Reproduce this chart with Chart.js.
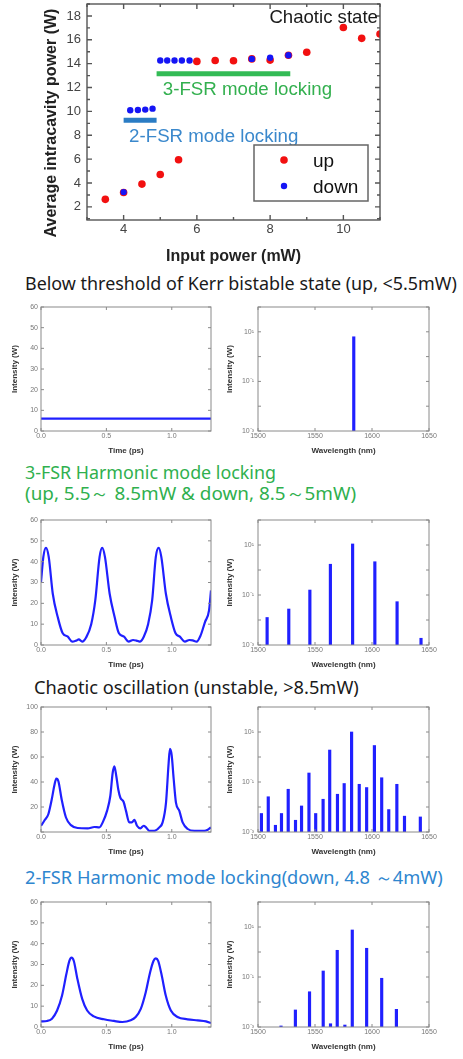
<!DOCTYPE html>
<html>
<head>
<meta charset="utf-8">
<script src="https://cdn.jsdelivr.net/npm/chart.js@4.4.1/dist/chart.umd.min.js"></script>
<style>
body { margin: 0; background: #fff; }
#page { position: relative; width: 463px; height: 1059px; overflow: hidden; font-family: "Noto Sans", sans-serif; }
canvas { position: absolute; }
.hd { position: absolute; white-space: nowrap; line-height: 22px; height: 22px; }
.hd span { display: inline-block; }
</style>
</head>
<body>
<div id="page">
  <canvas id="main" width="463" height="266" style="left:0;top:0"></canvas>

  <div class="hd" data-w="432" style="left:25px;top:272px;color:#1a1a1a"><span>Below threshold of Kerr bistable state (up, &lt;5.5mW)</span></div>
  <canvas id="t1" width="222" height="157" style="left:0;top:299px"></canvas>
  <canvas id="s1" width="248" height="157" style="left:215px;top:299px"></canvas>

  <div class="hd" data-w="251" style="left:25px;top:461px;color:#2fb04e"><span>3-FSR Harmonic mode locking</span></div>
  <div class="hd" data-w="331" style="left:25px;top:482px;color:#2fb04e"><span>(up, 5.5～ 8.5mW &amp; down, 8.5～5mW)</span></div>
  <canvas id="t2" width="222" height="158" style="left:0;top:512px"></canvas>
  <canvas id="s2" width="248" height="158" style="left:215px;top:512px"></canvas>

  <div class="hd" data-w="325" style="left:34px;top:676px;color:#1a1a1a"><span>Chaotic oscillation (unstable, &gt;8.5mW)</span></div>
  <canvas id="t3" width="222" height="158" style="left:0;top:699px"></canvas>
  <canvas id="s3" width="248" height="158" style="left:215px;top:699px"></canvas>

  <div class="hd" data-w="418" style="left:25px;top:866px;color:#2e86cf"><span>2-FSR Harmonic mode locking(down, 4.8 ～4mW)</span></div>
  <canvas id="t4" width="222" height="158" style="left:0;top:894px"></canvas>
  <canvas id="s4" width="248" height="158" style="left:215px;top:894px"></canvas>
</div>
<script>
// ---- top chart: average intracavity power vs input power
const upX = [3.5, 4, 4.5, 5, 5.5, 6, 6.5, 7, 7.5, 8, 8.5, 9, 10, 10.5, 11];
const upY = [2.63, 3.2, 3.91, 4.71, 5.95, 14.19, 14.27, 14.24, 14.4, 14.3, 14.7, 14.96, 17.03, 16.12, 16.48];
const downX = [4, 4.18, 4.39, 4.59, 4.79, 5, 5.19, 5.39, 5.59, 5.8, 7.5, 8, 8.5];
const downY = [3.24, 10.1, 10.12, 10.15, 10.23, 14.27, 14.27, 14.27, 14.27, 14.27, 14.4, 14.5, 14.7];
const band3X = [4.9, 8.55];
const band3Y = [13.16, 13.16];
const band2X = [4.0, 4.9];
const band2Y = [9.26, 9.26];
const mainXTicks = [4, 6, 8, 10];
const mainYTicks = [2, 4, 6, 8, 10, 12, 14, 16, 18];

// ---- time traces (ps, W)
const t1 = [0, 1.3];
const i1 = [6, 6];
const t2 = [0, 0.018, 0.038, 0.059, 0.09, 0.128, 0.166, 0.205, 0.238, 0.269, 0.289, 0.315, 0.346, 0.384, 0.415, 0.448, 0.468, 0.489, 0.525, 0.563, 0.596, 0.635, 0.67, 0.704, 0.73, 0.755, 0.786, 0.819, 0.85, 0.878, 0.9, 0.92, 0.955, 0.993, 1.029, 1.062, 1.1, 1.134, 1.16, 1.19, 1.22, 1.254, 1.285, 1.3];
const i2 = [30.2, 42.3, 46.6, 42.3, 24.6, 13.4, 5.6, 4, 1.6, 2.1, 2.7, 1.6, 3.7, 10, 21.4, 42.3, 46.6, 42.3, 24.6, 13.4, 5.6, 4, 1.6, 2.4, 2.1, 1.6, 4, 10, 21.4, 42.3, 46.6, 42.3, 24.6, 13.4, 5.6, 4, 1.6, 2.4, 2.2, 1.6, 4.5, 11, 16.6, 26.2];
const t3 = [0, 0.025, 0.056, 0.082, 0.102, 0.117, 0.133, 0.158, 0.191, 0.229, 0.28, 0.357, 0.408, 0.446, 0.472, 0.505, 0.53, 0.548, 0.561, 0.576, 0.591, 0.607, 0.632, 0.65, 0.675, 0.695, 0.714, 0.734, 0.76, 0.785, 0.803, 0.828, 0.867, 0.905, 0.93, 0.956, 0.976, 0.986, 0.999, 1.015, 1.032, 1.058, 1.083, 1.122, 1.173, 1.249, 1.275, 1.3];
const i3 = [5, 9, 14.2, 26, 37.2, 42.7, 40.6, 26, 11.6, 5.5, 3.2, 2.9, 4, 3.7, 7.7, 16.9, 28.8, 47.2, 52.5, 44.6, 34, 27.4, 24, 16.9, 7.7, 7.7, 9.8, 5, 2.9, 5, 3.7, 1, 1, 3.7, 7.7, 23.5, 55.1, 66.5, 61.7, 42, 23.5, 16.9, 7.7, 2.4, 1, 1, 1.8, 3.7];
const t4 = [0, 0.046, 0.084, 0.123, 0.161, 0.194, 0.217, 0.233, 0.251, 0.276, 0.315, 0.353, 0.404, 0.481, 0.558, 0.622, 0.686, 0.724, 0.763, 0.801, 0.834, 0.86, 0.878, 0.896, 0.921, 0.954, 0.993, 1.044, 1.121, 1.198, 1.262, 1.3];
const i4 = [2.7, 2.9, 4, 7.9, 15.1, 25.4, 31.7, 33.3, 31.7, 23.8, 13.5, 7.9, 5.1, 3.7, 2.9, 2.4, 3.2, 4.8, 8.7, 16.7, 26.2, 31.7, 32.9, 31.7, 25.4, 15.1, 7.9, 4.8, 3.7, 3.2, 2.7, 1.9];
const timeTicks = [0, 0.5, 1.0];

// ---- spectra (nm, W, log scale)
const w1 = [1584];
const s1 = [6.3];
const w2 = [1508, 1527, 1545.5, 1563.5, 1583, 1602.5, 1622, 1643];
const s2 = [0.0126, 0.0275, 0.158, 1.7, 11, 2.14, 0.054, 0.00186];
const w3 = [1503, 1509, 1515.3, 1520.6, 1526.5, 1532.9, 1538.2, 1544.7, 1550.6, 1557.1, 1562.9, 1569.7, 1575.6, 1582.1, 1588.8, 1595.3, 1602.1, 1608.5, 1614.7, 1621.8, 1628.5, 1642.4];
const s3 = [0.0055, 0.0257, 0.00186, 0.0055, 0.0513, 0.00295, 0.011, 0.229, 0.0055, 0.0204, 1.9, 0.0324, 0.087, 10, 0.081, 0.06, 2.88, 0.148, 0.0079, 0.081, 0.0043, 0.004];
const w4 = [1520.2, 1532.8, 1545.2, 1557.2, 1563.6, 1569.5, 1576.2, 1582.7, 1595.3, 1608.5, 1621.4];
const s4 = [0.0011, 0.0048, 0.0257, 0.174, 0.00135, 1.17, 0.0012, 7.6, 1.41, 0.089, 0.0051];
const waveTicks = [1500, 1550, 1600, 1650];
const decadeTicks = [1e-3, 1e-2, 1e-1, 1e0, 1e1, 1e2];
const decadeLabels = { '-3': '10⁻³', '-1': '10⁻¹', '1': '10¹' };

const F = '"Liberation Sans", Arial, sans-serif';
const traceColor = '#2020ff';

// size fixing so the plot areas land where the figure has them
const yFit = w => s => { s.width = w; s.paddingTop = 0; s.paddingBottom = 0; };
const xFit = h => s => { s.height = h; s.paddingLeft = 0; s.paddingRight = 0; };
const setTicks = arr => s => { s.ticks = arr.map(v => ({ value: v })); };

function minorOf(vals, scale) {
  if (vals.length < 2) return [];
  const step = vals[1] - vals[0];
  const out = [];
  for (let v = vals[0] - step / 2; v <= scale.max; v += step) {
    if (v >= scale.min) out.push(v);
  }
  return out;
}

// frame around the plot plus inward tick marks on all sides
const frameTicks = {
  id: 'frameTicks',
  afterDatasetsDraw(chart, args, o) {
    const { ctx, chartArea: a, scales } = chart;
    const xs = scales.x, ys = scales.y;
    const xv = xs.ticks.map(t => t.value), yv = ys.ticks.map(t => t.value);
    ctx.save();
    ctx.strokeStyle = o.color;
    ctx.lineWidth = o.width;
    ctx.beginPath();
    const xMark = (v, L) => { const p = xs.getPixelForValue(v); ctx.moveTo(p, a.bottom); ctx.lineTo(p, a.bottom - L); ctx.moveTo(p, a.top); ctx.lineTo(p, a.top + L); };
    const yMark = (v, L) => { const p = ys.getPixelForValue(v); ctx.moveTo(a.left, p); ctx.lineTo(a.left + L, p); ctx.moveTo(a.right, p); ctx.lineTo(a.right - L, p); };
    xv.forEach(v => xMark(v, o.len));
    yv.forEach(v => yMark(v, o.len));
    if (o.minor) {
      minorOf(xv, xs).forEach(v => xMark(v, o.len * 0.6));
      minorOf(yv, ys).forEach(v => yMark(v, o.len * 0.6));
    }
    ctx.stroke();
    ctx.strokeRect(a.left, a.top, a.width, a.height);
    ctx.restore();
  }
};

// free text placed in data coordinates, and the rotated y title of the main chart
const notes = {
  id: 'notes',
  afterDatasetsDraw(chart, args, o) {
    const { ctx, scales, chartArea: a } = chart;
    ctx.save();
    ctx.textBaseline = 'middle';
    (o.items || []).forEach(n => {
      ctx.font = n.size + 'px ' + F;
      ctx.fillStyle = n.color;
      ctx.fillText(n.text, scales.x.getPixelForValue(n.x), scales.y.getPixelForValue(n.y));
    });
    if (o.yTitle) {
      ctx.translate(a.left - o.yTitle.dx, (a.top + a.bottom) / 2 + o.yTitle.dy);
      ctx.rotate(-Math.PI / 2);
      ctx.textAlign = 'center';
      ctx.font = 'bold ' + o.yTitle.size + 'px ' + F;
      ctx.fillStyle = '#222';
      ctx.fillText(o.yTitle.text, 0, 0);
    }
    ctx.restore();
  }
};

// boxed legend inside the plot
const boxLegend = {
  id: 'boxLegend',
  afterDatasetsDraw(chart, args, o) {
    if (!o.labels) return;
    const { ctx, chartArea: a } = chart;
    const x0 = a.right - o.right - o.width, y0 = a.bottom - o.bottom - o.height;
    ctx.save();
    ctx.fillStyle = '#fff';
    ctx.fillRect(x0, y0, o.width, o.height);
    ctx.strokeStyle = '#666';
    ctx.lineWidth = 1.5;
    ctx.strokeRect(x0, y0, o.width, o.height);
    ctx.font = o.size + 'px ' + F;
    ctx.textBaseline = 'middle';
    o.labels.forEach((lab, k) => {
      const ds = chart.data.datasets.find(d => d.label === lab);
      const cy = y0 + 15 + k * 26;
      ctx.fillStyle = ds.backgroundColor;
      ctx.beginPath();
      ctx.arc(x0 + 30, cy, ds.pointRadius, 0, Math.PI * 2);
      ctx.fill();
      ctx.fillStyle = '#111';
      ctx.fillText(lab, x0 + 59, cy + 2);
    });
    ctx.restore();
  }
};

const toPts = (xs, ys) => xs.map((v, k) => ({ x: v, y: ys[k] }));

new Chart(document.getElementById('main'), {
  type: 'scatter',
  data: {
    datasets: [
      { label: 'down', data: toPts(downX, downY), backgroundColor: '#1515f5', borderWidth: 0, pointRadius: 3.2, order: 1 },
      { label: 'up', data: toPts(upX, upY), backgroundColor: '#f21010', borderWidth: 0, pointRadius: 3.8, order: 2 },
      { label: '3-FSR', type: 'line', data: toPts(band3X, band3Y), borderColor: '#33bb55', borderWidth: 5, pointRadius: 0, order: 3 },
      { label: '2-FSR', type: 'line', data: toPts(band2X, band2Y), borderColor: '#2a7cc4', borderWidth: 5, pointRadius: 0, order: 3 }
    ]
  },
  options: {
    responsive: false, animation: false, devicePixelRatio: 1,
    layout: { padding: { left: 38, top: 2, right: 83, bottom: 0 } },
    plugins: {
      legend: { display: false }, tooltip: { enabled: false },
      frameTicks: { color: '#555', width: 1.4, len: 5, minor: true },
      notes: {
        items: [
          { text: 'Chaotic state', x: 7.98, y: 17.86, color: '#1a1a1a', size: 18.6 },
          { text: '3-FSR mode locking', x: 5.07, y: 11.77, color: '#33b04f', size: 18.7 },
          { text: '2-FSR mode locking', x: 4.15, y: 7.87, color: '#3a88cc', size: 18.7 }
        ],
        yTitle: { text: 'Average intracavity power (W)', dx: 35, dy: 11, size: 16 }
      },
      boxLegend: { labels: ['up', 'down'], right: 12, bottom: 19, width: 114, height: 56, size: 19 }
    },
    scales: {
      x: {
        type: 'linear', min: 3, max: 11,
        afterBuildTicks: setTicks(mainXTicks), afterFit: xFit(46),
        grid: { display: false, drawTicks: false }, border: { display: false },
        ticks: { padding: 2, color: '#444', font: { size: 13, family: F } },
        title: { display: true, text: 'Input power (mW)', color: '#222', font: { size: 16, weight: 'bold', family: F }, padding: 0 }
      },
      y: {
        min: 0.9, max: 19,
        afterBuildTicks: setTicks(mainYTicks), afterFit: yFit(49),
        grid: { display: false, drawTicks: false }, border: { display: false },
        ticks: { padding: 6, color: '#444', font: { size: 13, family: F } }
      }
    }
  },
  plugins: [frameTicks, notes, boxLegend]
});

function timeChart(id, t, I, yMax, yStep, hideZero) {
  const yt = [];
  for (let v = 0; v <= yMax; v += yStep) yt.push(v);
  new Chart(document.getElementById(id), {
    type: 'line',
    data: { datasets: [{ data: toPts(t, I), borderColor: traceColor, borderWidth: 2.2, pointRadius: 0, cubicInterpolationMode: 'monotone' }] },
    options: {
      responsive: false, animation: false, devicePixelRatio: 1,
      layout: { padding: { left: 5, top: 8, right: 11, bottom: 0 } },
      plugins: { legend: { display: false }, tooltip: { enabled: false }, frameTicks: { color: '#8a8a8a', width: 1, len: 3 } },
      scales: {
        x: {
          type: 'linear', min: 0, max: 1.3,
          afterBuildTicks: setTicks(timeTicks), afterFit: xFit(25),
          grid: { display: false, drawTicks: false }, border: { display: false },
          ticks: { padding: 1, color: '#777', font: { size: 7, family: F }, callback: v => v.toFixed(1) },
          title: { display: true, text: 'Time (ps)', color: '#333', font: { size: 8, weight: 'bold', family: F }, padding: 0 }
        },
        y: {
          min: 0, max: yMax,
          afterBuildTicks: setTicks(yt), afterFit: yFit(36),
          grid: { display: false, drawTicks: false }, border: { display: false },
          ticks: { padding: 3, color: '#777', font: { size: 7, family: F }, callback: v => (hideZero && v === 0) ? '' : v },
          title: { display: true, text: 'Intensity (W)', color: '#333', font: { size: 8, weight: 'bold', family: F }, padding: { top: 5, bottom: 0 } }
        }
      }
    },
    plugins: [frameTicks]
  });
}

function spectrumChart(id, w, s) {
  new Chart(document.getElementById(id), {
    type: 'bar',
    data: { datasets: [{ data: toPts(w, s), backgroundColor: traceColor, barThickness: 2.5, base: 1e-3 }] },
    options: {
      responsive: false, animation: false, devicePixelRatio: 1,
      layout: { padding: { left: 5, top: 8, right: 34, bottom: 0 } },
      plugins: { legend: { display: false }, tooltip: { enabled: false }, frameTicks: { color: '#8a8a8a', width: 1, len: 3 } },
      scales: {
        x: {
          type: 'linear', min: 1500, max: 1650, offset: false,
          afterBuildTicks: setTicks(waveTicks), afterFit: xFit(25),
          grid: { display: false, drawTicks: false }, border: { display: false },
          ticks: { padding: 1, color: '#777', font: { size: 7, family: F }, callback: v => String(v) },
          title: { display: true, text: 'Wavelength (nm)', color: '#333', font: { size: 8, weight: 'bold', family: F }, padding: 0 }
        },
        y: {
          type: 'logarithmic', min: 1e-3, max: 1e2,
          afterBuildTicks: setTicks(decadeTicks), afterFit: yFit(38),
          grid: { display: false, drawTicks: false }, border: { display: false },
          ticks: { padding: 4, color: '#777', font: { size: 7, family: F }, callback: v => decadeLabels[String(Math.round(Math.log10(v)))] || '' },
          title: { display: true, text: 'Intensity (W)', color: '#333', font: { size: 8, weight: 'bold', family: F }, padding: { top: 5, bottom: 0 } }
        }
      }
    },
    plugins: [frameTicks]
  });
}

timeChart('t1', t1, i1, 60, 10, false);
timeChart('t2', t2, i2, 60, 10, false);
timeChart('t3', t3, i3, 100, 20, true);
timeChart('t4', t4, i4, 60, 10, false);
spectrumChart('s1', w1, s1);
spectrumChart('s2', w2, s2);
spectrumChart('s3', w3, s3);
spectrumChart('s4', w4, s4);

// headings: size each line to the width it has in the figure
document.querySelectorAll('.hd').forEach(el => {
  const sp = el.querySelector('span');
  sp.style.fontSize = '20px';
  const wd = sp.getBoundingClientRect().width;
  sp.style.fontSize = (20 * Number(el.dataset.w) / wd).toFixed(2) + 'px';
});
</script>
</body>
</html>
